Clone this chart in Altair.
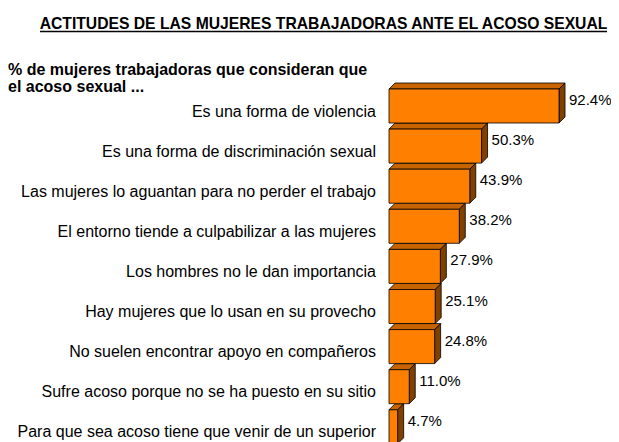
import altair as alt
import pandas as pd

categories = [
    "Es una forma de violencia\u00a0",
    "Es una forma de discriminación sexual",
    "Las mujeres lo aguantan para no perder el trabajo",
    "El entorno tiende a culpabilizar a las mujeres",
    "Los hombres no le dan importancia",
    "Hay mujeres que lo usan en su provecho",
    "No suelen encontrar apoyo en compañeros",
    "Sufre acoso porque no se ha puesto en su sitio",
    "Para que sea acoso tiene que venir de un superior",
]
values = [92.4, 50.3, 43.9, 38.2, 27.9, 25.1, 24.8, 11.0, 4.7]

title_text = "ACTITUDES DE LAS MUJERES TRABAJADORAS ANTE EL ACOSO SEXUAL"
subtitle_lines = ["% de mujeres trabajadoras que consideran que", "el acoso sexual ..."]

FONT = "Liberation Sans"
W, H = 603, 434
X0, XPX = 381, 1.84          # pixel position of 0 % and pixels per %
Y0, YPX = 98, 40.1           # pixel centre of first bar and bar pitch
HALF = 17 / YPX              # half bar thickness (index units)
DXV = 6 / XPX                # depth offset (value units)
DYI = 6 / YPX                # depth offset (index units)

bars = pd.DataFrame({"cat": categories, "val": values, "idx": list(range(len(values)))})
bars["top"] = bars["idx"] - HALF
bars["bot"] = bars["idx"] + HALF
bars["label"] = bars["val"].map(lambda v: f"{v:.1f}%")

top_rows, side_rows = [], []
for i, v in enumerate(values):
    t = i - HALF
    b = i + HALF
    top_rows += [
        {"bar": i, "px": 0.0, "lo": t, "hi": t},
        {"bar": i, "px": DXV, "lo": t, "hi": t - DYI},
        {"bar": i, "px": v, "lo": t, "hi": t - DYI},
        {"bar": i, "px": v + DXV, "lo": t - DYI, "hi": t - DYI},
    ]
    side_rows += [
        {"bar": i, "px": v, "lo": b, "hi": t},
        {"bar": i, "px": v + DXV, "lo": b - DYI, "hi": t - DYI},
    ]
top_df = pd.DataFrame(top_rows)
side_df = pd.DataFrame(side_rows)

xs = alt.Scale(domain=[0, 100], range=[X0, X0 + 100 * XPX], nice=False, zero=False)
ys = alt.Scale(domain=[0, 1], range=[Y0, Y0 + YPX], nice=False, zero=False)

front = alt.Chart(bars).mark_rect(color="#FF8000", stroke="#000000", strokeWidth=0.8).encode(
    x=alt.X("val:Q", scale=xs, axis=None),
    x2=alt.value(X0),
    y=alt.Y("top:Q", scale=ys, axis=None),
    y2="bot:Q",
)


def face(df, fill):
    return alt.Chart(df).mark_area(
        fill=fill, stroke="#000000", strokeWidth=0.8, orient="vertical", opacity=1, fillOpacity=1
    ).encode(
        x=alt.X("px:Q", scale=xs, axis=None),
        y=alt.Y("hi:Q", scale=ys, axis=None, stack=None),
        y2="lo:Q",
        detail="bar:N",
    )


top_face = face(top_df, "#C86400")
side_face = face(side_df, "#804000")

cat_text = alt.Chart(bars).mark_text(
    align="right", baseline="alphabetic", dx=-13, dy=10.5, font=FONT, fontSize=16, color="#000000"
).encode(
    x=alt.value(X0),
    y=alt.Y("idx:Q", scale=ys, axis=None),
    text="cat:N",
)

val_text = alt.Chart(bars).mark_text(
    align="left", baseline="alphabetic", dx=10, dy=-1, font=FONT, fontSize=15, color="#000000"
).encode(
    x=alt.X("val:Q", scale=xs, axis=None),
    y=alt.Y("idx:Q", scale=ys, axis=None),
    text="label:N",
)

title_df = pd.DataFrame({"t": [title_text]})
title = alt.Chart(title_df).mark_text(
    align="center", baseline="alphabetic", font=FONT, fontSize=15.7, fontWeight="bold", color="#000000"
).encode(x=alt.value(315.5), y=alt.value(21.3), text="t:N")

underline = alt.Chart(title_df).mark_rule(color="#000000", strokeWidth=1.5).encode(
    x=alt.value(32), x2=alt.value(599), y=alt.value(23.5)
)

sub1 = alt.Chart(pd.DataFrame({"t": [subtitle_lines[0]]})).mark_text(
    align="left", baseline="alphabetic", font=FONT, fontSize=16, fontWeight="bold", color="#000000"
).encode(x=alt.value(0), y=alt.value(67), text="t:N")
sub2 = alt.Chart(pd.DataFrame({"t": [subtitle_lines[1]]})).mark_text(
    align="left", baseline="alphabetic", font=FONT, fontSize=16, fontWeight="bold", color="#000000"
).encode(x=alt.value(0), y=alt.value(84), text="t:N")

chart = alt.layer(
    top_face, side_face, front, cat_text, val_text, title, underline, sub1, sub2
).properties(
    width=W, height=H, padding=0, autosize=alt.AutoSizeParams(type="none")
).configure_view(stroke=None)

chart.save("out.html", embed_options={"renderer": "svg", "actions": False})
